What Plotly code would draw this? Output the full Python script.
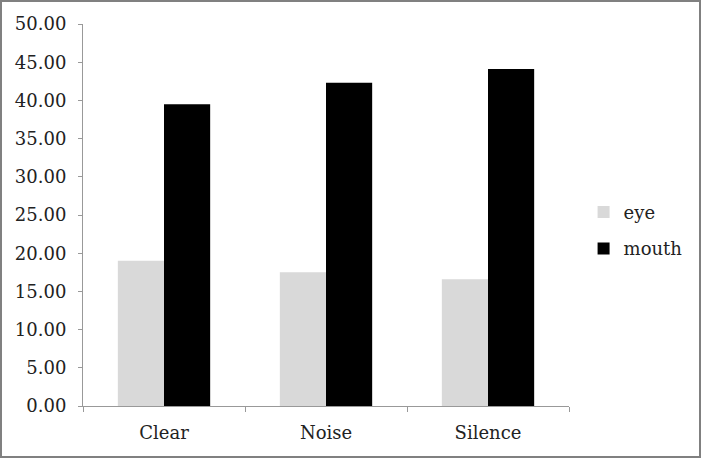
import plotly.graph_objects as go

categories = ["Clear", "Noise", "Silence"]
eye = [19.0, 17.5, 16.6]
mouth = [39.5, 42.3, 44.1]
y_ticks = [0, 5, 10, 15, 20, 25, 30, 35, 40, 45, 50]

W, H = 702, 459
L, R, T, B = 83, 133, 24, 53
pw, ph = W - L - R, H - T - B

font = dict(family="DejaVu Serif", size=18, color="#222")

fig = go.Figure()
fig.add_trace(go.Bar(name="eye", x=categories, y=eye, legendgroup="a",
                     marker=dict(color="#d9d9d9", line=dict(width=0))))
fig.add_trace(go.Bar(name="mouth", x=categories, y=mouth, legendgroup="b",
                     marker=dict(color="#000000", line=dict(width=0))))

def px_x(p):
    return (p - L) / pw

def px_y(p):
    return (H - B - p) / ph

fig.update_layout(
    width=W, height=H,
    margin=dict(l=L, r=R, t=T, b=B, autoexpand=False),
    paper_bgcolor="white", plot_bgcolor="white",
    barmode="group", bargap=0.43, bargroupgap=0,
    font=font,
    showlegend=True,
    legend=dict(x=1.03, y=0.46, xanchor="left", yanchor="middle", font=font,
                tracegroupgap=10, itemsizing="constant", bgcolor="rgba(0,0,0,0)"),
    xaxis=dict(showline=True, linecolor="#999", linewidth=1, ticks="outside",
               tickson="boundaries", ticklen=5, tickcolor="#999", showgrid=False,
               tickfont=font, ticklabelstandoff=10),
    yaxis=dict(range=[0, 50], tickvals=y_ticks, tickformat=".2f", showline=True,
               linecolor="#999", linewidth=1, ticks="outside", ticklen=4,
               tickcolor="#999", showgrid=False, zeroline=False, tickfont=font,
               ticklabelstandoff=8),
    shapes=[dict(type="rect", xref="paper", yref="paper",
                 x0=px_x(1), x1=px_x(700), y0=px_y(457), y1=px_y(1),
                 line=dict(color="#808080", width=2), fillcolor="rgba(0,0,0,0)",
                 layer="below")],
)

fig.write_html("out.html")
